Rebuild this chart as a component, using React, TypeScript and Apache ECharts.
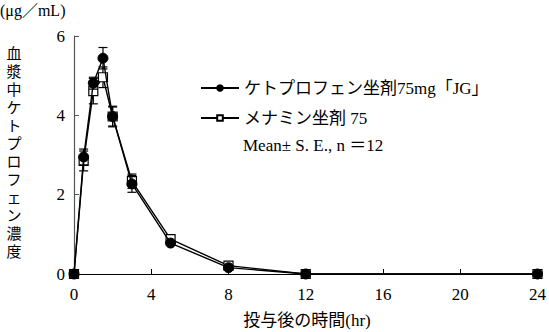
import React, { useEffect, useRef } from "react";
import * as echarts from "echarts";

const times = [0, 0.5, 1, 1.5, 2, 3, 5, 8, 12, 24];
const jgMean = [0, 2.95, 4.81, 5.44, 3.97, 2.27, 0.78, 0.16, 0, 0];
const jgSE = [0, 0.2, 0.15, 0.27, 0.26, 0.21, 0.06, 0.04, 0, 0];
const menaMean = [0, 2.85, 4.61, 4.96, 3.97, 2.34, 0.88, 0.21, 0, 0];
const menaSE = [0, 0.25, 0.32, 0.26, 0.24, 0.18, 0.06, 0.04, 0, 0];
const seriesNames = ["ケトプロフェン坐剤75mg「JG」", "メナミン坐剤 75"];
const noteText = "Mean± S. E., n ＝12";
const yAxisTitle = "血漿中ケトプロフェン濃度";
const unitText = "(μg／mL)";
const xAxisTitle = "投与後の時間(hr)";

const FONT = "'Liberation Serif', 'Noto Sans CJK JP', serif";

function errData(mean: number[], se: number[]) {
  return times
    .map((t, i) => [t, mean[i] - se[i], mean[i] + se[i]])
    .filter((d) => d[2] - d[1] > 0);
}

function errSeries(mean: number[], se: number[], z: number) {
  return {
    type: "custom",
    z,
    silent: true,
    data: errData(mean, se),
    encode: { x: 0, y: [1, 2] },
    renderItem: (params: any, api: any) => {
      const x = api.value(0);
      const lo = api.coord([x, api.value(1)]);
      const hi = api.coord([x, api.value(2)]);
      const hw = 4.5;
      const style = { stroke: "#000", lineWidth: 1.2 };
      return {
        type: "group",
        children: [
          { type: "line", shape: { x1: lo[0], y1: lo[1], x2: hi[0], y2: hi[1] }, style },
          { type: "line", shape: { x1: lo[0] - hw, y1: lo[1], x2: lo[0] + hw, y2: lo[1] }, style },
          { type: "line", shape: { x1: hi[0] - hw, y1: hi[1], x2: hi[0] + hw, y2: hi[1] }, style },
        ],
      };
    },
  };
}

export default function App() {
  const ref = useRef<HTMLDivElement>(null);
  useEffect(() => {
    if (!ref.current) return;
    const chart = echarts.init(ref.current, undefined, { renderer: "svg" });
    chart.setOption({
      animation: false,
      backgroundColor: "#fff",
      grid: { left: 74, right: 9, top: 36, bottom: 58 },
      xAxis: {
        type: "value",
        min: 0,
        max: 24,
        interval: 4,
        axisLine: { show: true, onZero: false, lineStyle: { color: "#000", width: 1.2 } },
        axisTick: { show: true, inside: true, length: 5, lineStyle: { color: "#000" } },
        axisLabel: { color: "#000", fontSize: 17, fontFamily: FONT, margin: 12 },
        splitLine: { show: false },
      },
      yAxis: {
        type: "value",
        min: 0,
        max: 6,
        interval: 2,
        axisLine: { show: true, lineStyle: { color: "#555", width: 1.2 } },
        axisTick: { show: true, inside: true, length: 5, lineStyle: { color: "#555" } },
        axisLabel: { color: "#000", fontSize: 17, fontFamily: FONT, margin: 9 },
        splitLine: { show: false },
      },
      legend: {
        orient: "vertical",
        left: 195,
        top: 73,
        itemWidth: 38,
        itemHeight: 7,
        itemGap: 10,
        data: seriesNames,
        textStyle: { color: "#000", fontSize: 17, fontFamily: FONT, lineHeight: 20 },
      },
      graphic: [
        {
          type: "text",
          left: 243,
          top: 137,
          style: { text: noteText, fill: "#000", font: `17px ${FONT}` },
        },
        {
          type: "text",
          left: 0,
          top: 2,
          style: { text: unitText, fill: "#000", font: `16px ${FONT}` },
        },
        {
          type: "text",
          x: 14,
          y: 45,
          style: {
            text: yAxisTitle.split("").join("\n"),
            fill: "#000",
            font: `15px ${FONT}`,
            lineHeight: 18,
            align: "center",
            verticalAlign: "top",
          },
        },
        {
          type: "text",
          x: 307,
          y: 320,
          style: {
            text: xAxisTitle,
            fill: "#000",
            font: `17px ${FONT}`,
            align: "center",
            verticalAlign: "middle",
          },
        },
      ],
      series: [
        errSeries(menaMean, menaSE, 1),
        {
          name: seriesNames[1],
          type: "line",
          z: 2,
          data: times.map((t, i) => [t, menaMean[i]]),
          symbol: "rect",
          symbolSize: 9,
          lineStyle: { color: "#000", width: 1.4 },
          itemStyle: { color: "#fff", borderColor: "#000", borderWidth: 1.2 },
        },
        errSeries(jgMean, jgSE, 3),
        {
          name: seriesNames[0],
          type: "line",
          z: 4,
          data: times.map((t, i) => [t, jgMean[i]]),
          symbol: "circle",
          symbolSize: 10,
          lineStyle: { color: "#000", width: 1.4 },
          itemStyle: { color: "#000", borderColor: "#000", borderWidth: 1 },
        },
      ],
    });
    return () => chart.dispose();
  }, []);
  return <div ref={ref} style={{ width: 549, height: 332, position: "absolute", left: 0, top: 0 }} />;
}
